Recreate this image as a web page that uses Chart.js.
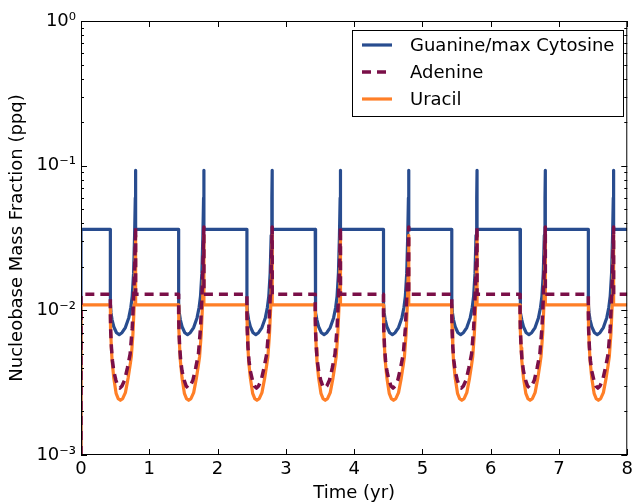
<!DOCTYPE html>
<html>
<head>
<meta charset="utf-8">
<script src="https://cdn.jsdelivr.net/npm/chart.js@4.4.1/dist/chart.umd.min.js"></script>
<style>
  body { margin: 0; background: #fff; }
  #wrap { width: 637px; height: 504px; }
</style>
</head>
<body>
<div id="wrap"><canvas id="chart" width="637" height="504"></canvas></div>
<script>
// values
const xTicks = [0, 1, 2, 3, 4, 5, 6, 7, 8];
const yTicks = [0.001, 0.01, 0.1, 1];
const yTickLabels = ["10⁻³", "10⁻²", "10⁻¹", "10⁰"];

// times (yr) where each plateau drops into a dip
const dropTimes = [0.43, 1.43, 2.43, 3.43, 4.43, 5.43, 6.43, 7.43];
const endTime = 8;
const startValue = 0.001;

// Guanine/max Cytosine
const guaninePlateau = 0.0363;
const guanineDipT = [0, 0, 0.01, 0.025, 0.05, 0.09, 0.13, 0.17, 0.22, 0.27, 0.30, 0.32, 0.34, 0.355, 0.365, 0.37, 0.37];
const guanineDipV = [0.0363, 0.0112, 0.0096, 0.0086, 0.0077, 0.0070, 0.0068, 0.0070, 0.0076, 0.0089, 0.0105, 0.0125, 0.018, 0.033, 0.06, 0.093, 0.0363];

// Adenine
const adeninePlateau = 0.0129;
const adenineDipT = [0, 0, 0.005, 0.015, 0.03, 0.05, 0.08, 0.11, 0.14, 0.17, 0.21, 0.25, 0.29, 0.32, 0.34, 0.355, 0.37, 0.37];
const adenineDipV = [0.0129, 0.0095, 0.0072, 0.0056, 0.0045, 0.0038, 0.0033, 0.0030, 0.0029, 0.0030, 0.0033, 0.0040, 0.0050, 0.0075, 0.012, 0.019, 0.0377, 0.0129];

// Uracil
const uracilPlateau = 0.0109;
const uracilDipT = [0, 0, 0.005, 0.015, 0.025, 0.05, 0.084, 0.115, 0.147, 0.18, 0.22, 0.26, 0.29, 0.307, 0.33, 0.35, 0.36, 0.37, 0.37];
const uracilDipV = [0.0109, 0.0095, 0.0075, 0.0055, 0.0045, 0.0034, 0.00267, 0.00245, 0.00239, 0.00245, 0.0027, 0.0034, 0.0042, 0.0048, 0.0068, 0.011, 0.017, 0.033, 0.0109];

const buildSeries = (plateau, dipT, dipV) => {
  const pts = [{ x: 0, y: startValue }, { x: 0, y: plateau }];
  dropTimes.forEach((t0) => {
    dipT.forEach((dt, i) => pts.push({ x: t0 + dt, y: dipV[i] }));
  });
  pts.push({ x: endTime, y: plateau });
  return pts;
};

const FONT = "'DejaVu Sans', sans-serif";

const frameAndLegend = {
  id: "frameAndLegend",
  afterDatasetsDraw(chart) {
    const { ctx, chartArea: a, scales } = chart;
    ctx.save();
    ctx.strokeStyle = "#000";
    ctx.lineWidth = 1;
    ctx.strokeRect(a.left + 0.5, a.top + 0.5, a.right - a.left - 1, a.bottom - a.top - 1);

    // inward ticks on all four sides
    ctx.beginPath();
    xTicks.forEach((v) => {
      const px = Math.round(scales.x.getPixelForValue(v)) + 0.5;
      ctx.moveTo(px, a.bottom); ctx.lineTo(px, a.bottom - 6);
      ctx.moveTo(px, a.top); ctx.lineTo(px, a.top + 6);
    });
    for (let d = 0.001; d < 1.5; d *= 10) {
      for (let m = 1; m <= 9; m++) {
        const v = d * m;
        if (v > 1.0001 || v < 0.00099) continue;
        const py = Math.round(scales.y.getPixelForValue(v)) + 0.5;
        const len = m === 1 ? 6 : 3;
        ctx.moveTo(a.left, py); ctx.lineTo(a.left + len, py);
        ctx.moveTo(a.right, py); ctx.lineTo(a.right - len, py);
      }
    }
    ctx.stroke();

    // legend box
    const box = { x: 352, y: 30, w: 271, h: 86 };
    ctx.fillStyle = "#fff";
    ctx.fillRect(box.x, box.y, box.w, box.h);
    ctx.strokeRect(box.x + 0.5, box.y + 0.5, box.w, box.h);
    const rows = [45, 72, 99];
    const legendOrder = [0, 1, 2];
    ctx.font = "18px " + FONT;
    ctx.textBaseline = "middle";
    legendOrder.forEach((idx, r) => {
      const ds = chart.data.datasets[idx];
      ctx.beginPath();
      ctx.strokeStyle = ds.borderColor;
      ctx.lineWidth = ds.borderWidth;
      ctx.setLineDash(ds.borderDash || []);
      ctx.moveTo(362, rows[r]);
      ctx.lineTo(392, rows[r]);
      ctx.stroke();
      ctx.setLineDash([]);
      ctx.fillStyle = "#000";
      ctx.fillText(ds.label, 410, rows[r] + 1);
    });
    ctx.restore();
  },
};

new Chart(document.getElementById("chart"), {
  type: "line",
  data: {
    datasets: [
      {
        label: "Guanine/max Cytosine",
        data: buildSeries(guaninePlateau, guanineDipT, guanineDipV),
        borderColor: "#284c8f",
        borderWidth: 3.2,
        order: 2,
      },
      {
        label: "Adenine",
        data: buildSeries(adeninePlateau, adenineDipT, adenineDipV),
        borderColor: "#7a0f48",
        borderWidth: 3.5,
        borderDash: [9, 6],
        order: 0,
      },
      {
        label: "Uracil",
        data: buildSeries(uracilPlateau, uracilDipT, uracilDipV),
        borderColor: "#ff7f27",
        borderWidth: 3.2,
        order: 1,
      },
    ],
  },
  options: {
    responsive: false,
    animation: false,
    layout: { padding: { left: 0, top: 21, right: 7, bottom: 0 } },
    elements: { point: { radius: 0 }, line: { tension: 0, borderJoinStyle: "round" } },
    plugins: { legend: { display: false }, tooltip: { enabled: false } },
    scales: {
      x: {
        type: "linear",
        min: 0,
        max: 8,
        grid: { display: false, drawTicks: false },
        border: { display: false },
        afterBuildTicks: (s) => { s.ticks = xTicks.map((v) => ({ value: v })); },
        afterFit: (s) => { s.height = 49; },
        ticks: { color: "#000", font: { family: FONT, size: 18 }, padding: 4, maxRotation: 0 },
        title: { display: true, text: "Time (yr)", color: "#000", font: { family: FONT, size: 18 }, padding: 0 },
      },
      y: {
        type: "logarithmic",
        min: 0.001,
        max: 1,
        grid: { display: false, drawTicks: false },
        border: { display: false },
        afterBuildTicks: (s) => { s.ticks = yTicks.map((v) => ({ value: v })); },
        afterFit: (s) => { s.width = 81; },
        ticks: {
          color: "#000",
          font: { family: FONT, size: 18 },
          padding: 5,
          callback: (v) => {
            const i = yTicks.findIndex((t) => Math.abs(t - v) / t < 1e-6);
            return i >= 0 ? yTickLabels[i] : "";
          },
        },
        title: { display: true, text: "Nucleobase Mass Fraction (ppq)", color: "#000", font: { family: FONT, size: 18 }, padding: { top: 7, bottom: 0 } },
      },
    },
  },
  plugins: [frameAndLegend],
});
</script>
</body>
</html>
